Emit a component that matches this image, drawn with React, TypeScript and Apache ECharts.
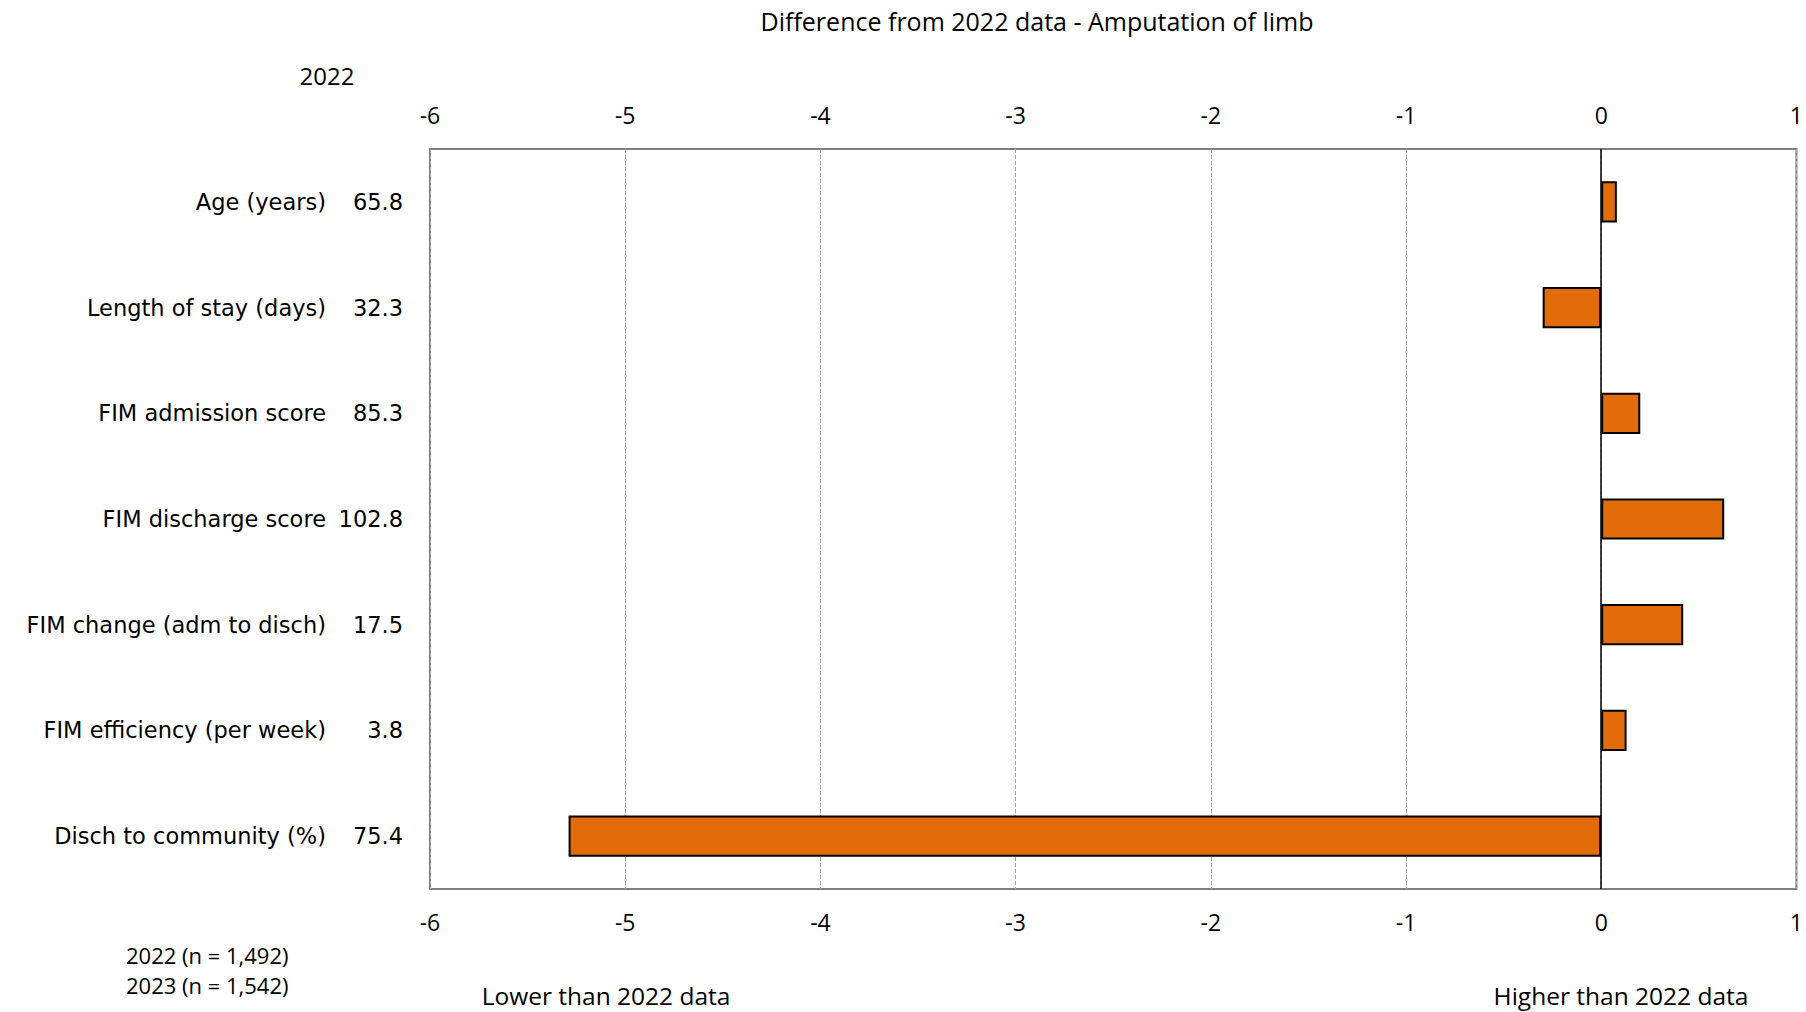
import React, { useEffect, useRef } from "react";
import * as echarts from "echarts";

const categories = [
  "Age (years)",
  "Length of stay (days)",
  "FIM admission score",
  "FIM discharge score",
  "FIM change (adm to disch)",
  "FIM efficiency (per week)",
  "Disch to community (%)",
];
const values2022 = ["65.8", "32.3", "85.3", "102.8", "17.5", "3.8", "75.4"];
const differences = [0.08, -0.3, 0.2, 0.63, 0.42, 0.13, -5.29];
const xTicks = { min: -6, max: 1, interval: 1 };
const titleText = "Difference from 2022 data - Amputation of limb";
const columnHeader = "2022";
const footnotes = ["2022 (n = 1,492)", "2023 (n = 1,542)"];
const directionLabels = ["Lower than 2022 data", "Higher than 2022 data"];

const LABEL_FONT = "'DejaVu Sans', sans-serif";
const TICK_FONT = "'Open Sans', sans-serif";

export default function App() {
  const ref = useRef<HTMLDivElement>(null);
  useEffect(() => {
    if (!ref.current) return;
    const chart = echarts.init(ref.current, null, { renderer: "svg" });
    const xAxisCommon = {
      type: "value" as const,
      min: xTicks.min,
      max: xTicks.max,
      interval: xTicks.interval,
      axisLine: { show: false },
      axisTick: { show: false },
    };
    const yAxisCommon = {
      type: "category" as const,
      data: categories,
      inverse: true,
      axisLine: { show: false },
      axisTick: { show: false },
      splitLine: { show: false },
    };
    const textStyle = (size: number) => `${size}px ${TICK_FONT}`;
    chart.setOption({
      animation: false,
      backgroundColor: "#fff",
      grid: {
        left: 430,
        width: 1370,
        top: 149,
        bottom: 123,
        show: true,
        borderColor: "#7f7f7f",
        borderWidth: 2,
        backgroundColor: "transparent",
      },
      xAxis: [
        {
          ...xAxisCommon,
          position: "top",
          axisLabel: { color: "#000", fontSize: 23, fontFamily: TICK_FONT, margin: 23 },
          splitLine: { show: true, lineStyle: { color: "#a6a6a6", type: "dashed", width: 1 } },
        },
        {
          ...xAxisCommon,
          position: "bottom",
          axisLabel: { color: "#000", fontSize: 23, fontFamily: TICK_FONT, margin: 21 },
          splitLine: { show: false },
        },
      ],
      yAxis: [
        {
          ...yAxisCommon,
          position: "left",
          axisLabel: { color: "#000", fontSize: 22.5, fontFamily: LABEL_FONT, margin: 104 },
        },
        {
          ...yAxisCommon,
          position: "left",
          data: categories.map((c, i) => ({ value: values2022[i] })),
          axisLabel: { color: "#000", fontSize: 22.5, fontFamily: LABEL_FONT, margin: 27 },
        },
      ],
      series: [
        {
          type: "bar",
          xAxisIndex: 0,
          yAxisIndex: 0,
          data: differences,
          barWidth: "39%",
          itemStyle: { color: "#E36C0A", borderColor: "#000", borderWidth: 2 },
          markLine: {
            silent: true,
            symbol: "none",
            label: { show: false },
            lineStyle: { color: "#000", width: 1.5, type: "solid" },
            data: [{ xAxis: 0 }],
          },
        },
      ],
      graphic: [
        {
          type: "text",
          x: 1037,
          y: 21,
          style: { text: titleText, fill: "#000", font: textStyle(25), textAlign: "center", textVerticalAlign: "middle" },
        },
        {
          type: "text",
          x: 327,
          y: 75,
          style: { text: columnHeader, fill: "#000", font: textStyle(24), textAlign: "center", textVerticalAlign: "middle" },
        },
        {
          type: "text",
          x: 126,
          y: 955,
          style: { text: footnotes[0], fill: "#000", font: textStyle(22), textAlign: "left", textVerticalAlign: "middle" },
        },
        {
          type: "text",
          x: 126,
          y: 985,
          style: { text: footnotes[1], fill: "#000", font: textStyle(22), textAlign: "left", textVerticalAlign: "middle" },
        },
        {
          type: "text",
          x: 606,
          y: 995,
          style: { text: directionLabels[0], fill: "#000", font: textStyle(24.5), textAlign: "center", textVerticalAlign: "middle" },
        },
        {
          type: "text",
          x: 1621,
          y: 995,
          style: { text: directionLabels[1], fill: "#000", font: textStyle(24.5), textAlign: "center", textVerticalAlign: "middle" },
        },
      ],
    });
    return () => chart.dispose();
  }, []);
  return (
    <div
      ref={ref}
      style={{ position: "fixed", left: 0, top: 0, width: 1806, height: 1012, background: "#fff" }}
    />
  );
}
